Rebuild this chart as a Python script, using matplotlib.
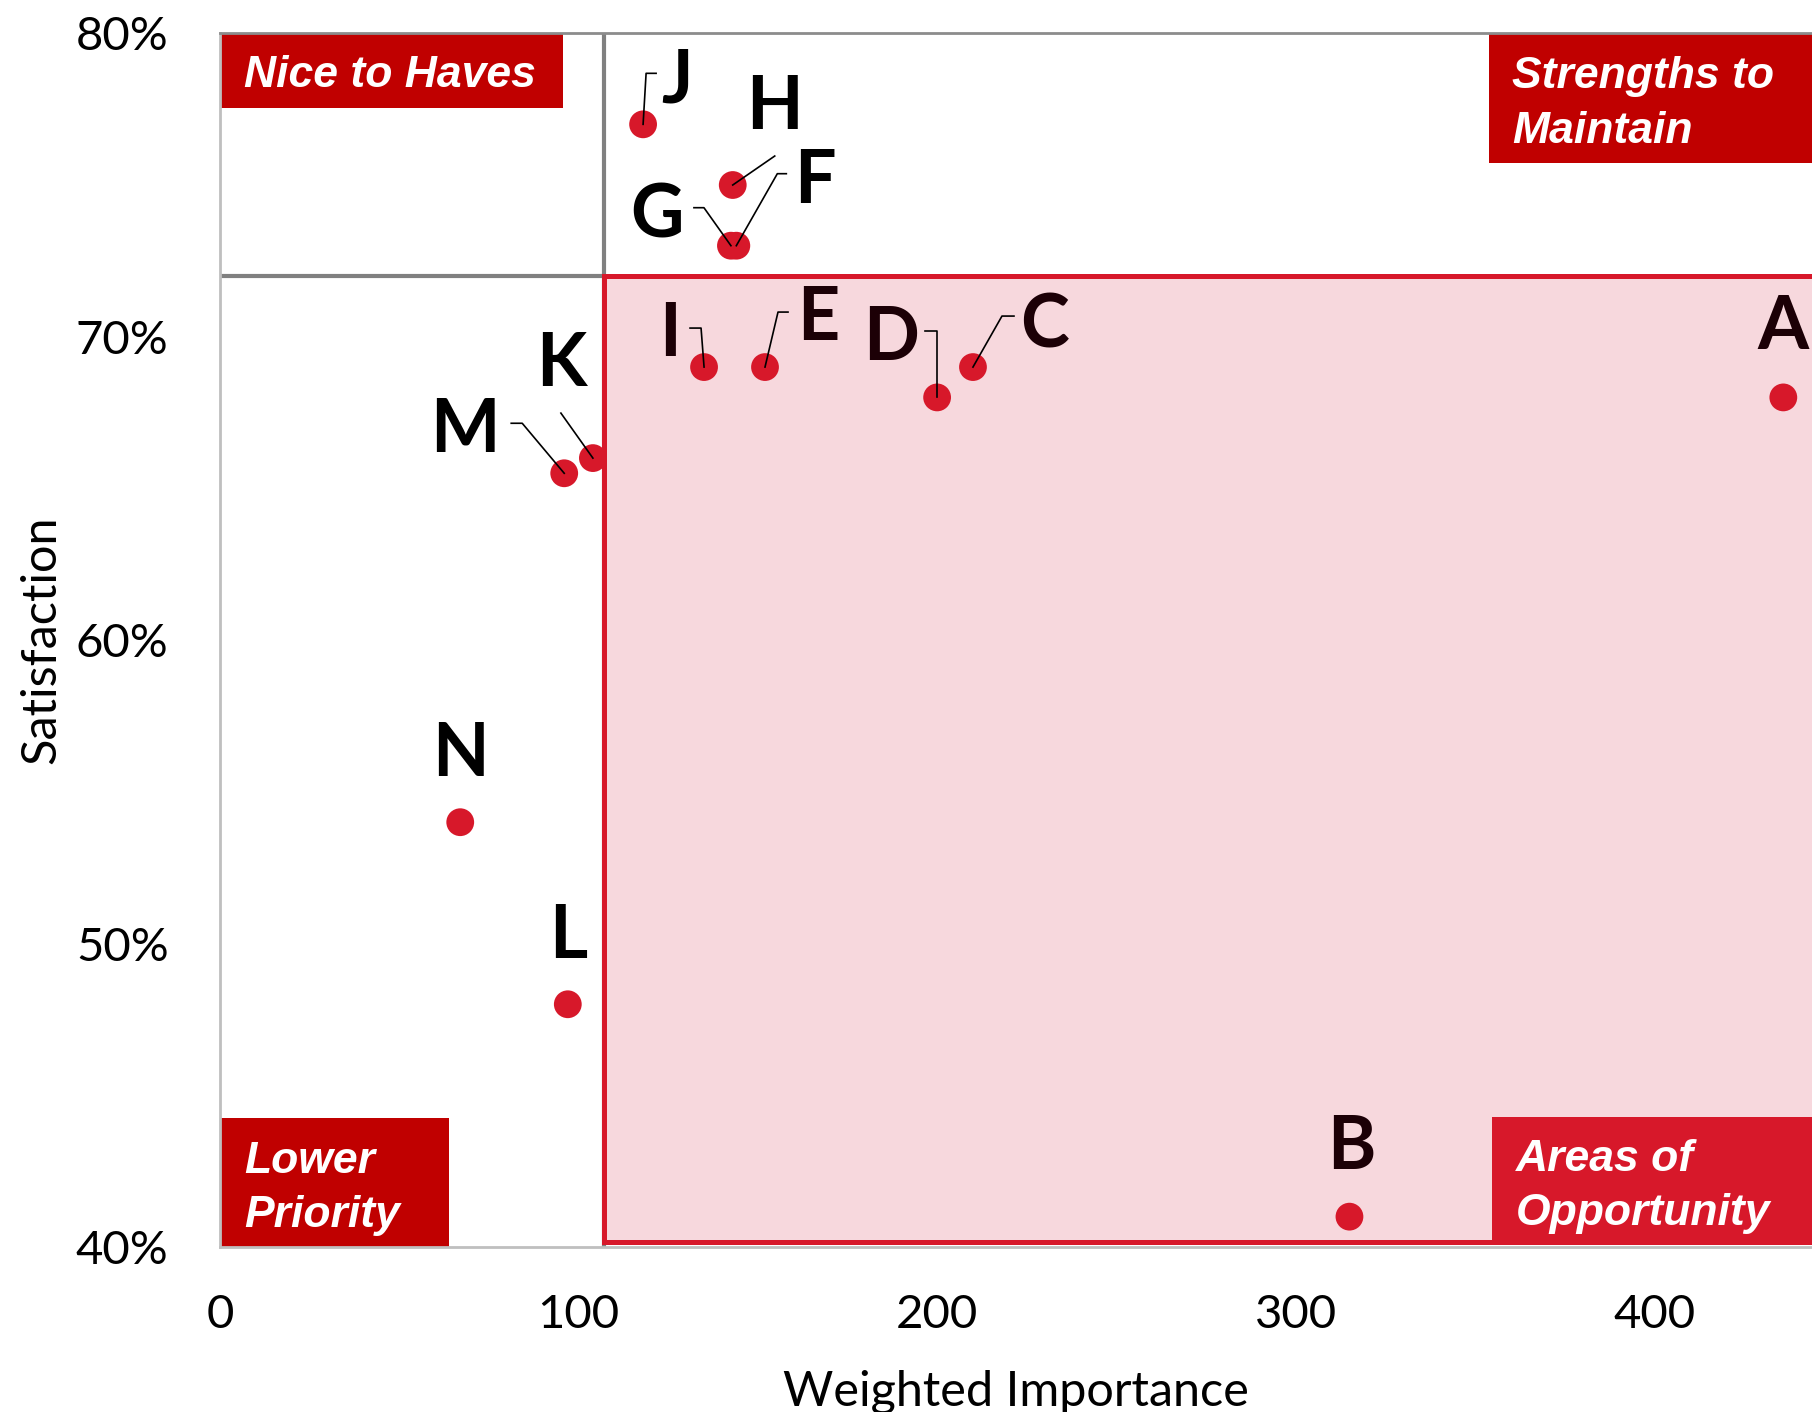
import matplotlib.pyplot as plt
import matplotlib.transforms as mtransforms
from matplotlib.patches import Rectangle
from matplotlib.ticker import PercentFormatter

plt.rcParams['font.family'] = ['Lato', 'DejaVu Sans']

# attributes and their scores
names = ['A', 'B', 'C', 'D', 'E', 'F', 'G', 'H', 'I', 'J', 'K', 'L', 'M', 'N']
importance = [436, 315, 210, 200, 152, 144, 142.5, 143, 135, 118, 104, 97, 96, 67]
satisfaction = [0.68, 0.41, 0.69, 0.68, 0.69, 0.73, 0.73, 0.75, 0.69, 0.77, 0.66, 0.48, 0.655, 0.54]

x_split = 107     # importance cut-off
y_split = 0.72    # satisfaction cut-off

xticks = [0, 100, 200, 300, 400]
yticks = [0.4, 0.5, 0.6, 0.7, 0.8]

# label placement (pixels from the dot: dx right, dy down to baseline)
label_off = {'A': (0, -48), 'B': (2, -48), 'C': (72, -20), 'D': (-46, -37),
             'E': (53, -27), 'F': (79, -43), 'G': (-74, -8), 'H': (42, -56),
             'I': (-34, -11), 'J': (34, -22), 'K': (-32, -72), 'L': (0, -46),
             'M': (-99, -21), 'N': (0, -46)}
# leader lines, same pixel offsets
leaders = {'C': [(0, 0), (29, -51), (41, -51)],
           'D': [(0, 0), (0, -66), (-12, -66)],
           'E': [(0, 0), (13, -55), (23, -55)],
           'F': [(0, 0), (41, -72), (50, -72)],
           'G': [(0, 0), (-27, -38), (-37, -38)],
           'H': [(0, 0), (42, -29)],
           'I': [(0, 0), (-3, -39), (-14, -39)],
           'J': [(0, 0), (3, -51), (13, -51)],
           'K': [(0, 0), (-32, -45)],
           'M': [(0, 0), (-42, -50), (-53, -50)]}

RED = '#D7182A'
DARKRED = '#C00000'

fig = plt.figure(figsize=(18.12, 14.12), dpi=100)
ax = fig.add_axes([220/1812, 165/1412, 1592/1812, 1213.7/1412])
ax.set_xlim(0, 444)
ax.set_ylim(0.4, 0.8)

# quadrant lines / opportunity area
ax.axvline(x_split, color='#808080', lw=3, zorder=1)
ax.plot([0, x_split], [y_split, y_split], color='#808080', lw=3, zorder=1, solid_capstyle='butt')
ax.add_patch(Rectangle((x_split, 0.4015), 1000, y_split - 0.4015, facecolor='#F7D8DD',
                       edgecolor=RED, lw=3.6, zorder=1.5))

# points
ax.scatter(importance, satisfaction, s=400, color=RED, edgecolors='none', zorder=3)

for name, x, y in zip(names, importance, satisfaction):
    inside = x > x_split and y < y_split
    dx, dy = label_off[name]
    ax.annotate(name, xy=(x, y), xytext=(dx, -dy), textcoords='offset pixels',
                ha='center', va='baseline', fontsize=53, fontweight='bold',
                color='#1c0006' if inside else 'black', zorder=4)
    if name in leaders:
        tr = mtransforms.Affine2D().scale(1, -1) + mtransforms.ScaledTranslation(x, y, ax.transData)
        px = [p[0] for p in leaders[name]]
        py = [p[1] for p in leaders[name]]
        ax.plot(px, py, color='black', lw=1.2, transform=tr, zorder=3.5, clip_on=False)

# quadrant captions
boxes = [
    ((0, 0.7754), 95.6, 0.80 - 0.7754, DARKRED, [(6.7, 0.7823, 'Nice to Haves')]),
    ((353.8, 0.7573), 100, 0.80 - 0.7573, DARKRED,
     [(360.4, 0.7820, 'Strengths to'), (360.4, 0.7638, 'Maintain')]),
    ((0, 0.40), 64.0, 0.4425 - 0.40, DARKRED,
     [(6.7, 0.4244, 'Lower'), (6.7, 0.4066, 'Priority')]),
    ((354.8, 0.4015), 100, 0.4428 - 0.4015, RED,
     [(361.4, 0.4250, 'Areas of'), (361.4, 0.4072, 'Opportunity')]),
]
for (x0, y0), w, h, c, lines in boxes:
    ax.add_patch(Rectangle((x0, y0), w, h, facecolor=c, edgecolor='none', zorder=2))
    for tx, ty, s in lines:
        ax.text(tx, ty, s, family='Liberation Sans', fontsize=32, fontweight='bold',
                style='italic', color='white', va='baseline', zorder=2.5)

# axes styling
for side in ['left', 'bottom']:
    ax.spines[side].set_color('#BFBFBF')
    ax.spines[side].set_linewidth(2)
ax.spines['top'].set_color('#8C8C8C')
ax.spines['top'].set_linewidth(2)
ax.spines['right'].set_visible(False)

ax.set_xticks(xticks)
ax.set_yticks(yticks)
ax.yaxis.set_major_formatter(PercentFormatter(1.0, decimals=0))
ax.tick_params(axis='both', length=0, labelsize=34)
ax.tick_params(axis='x', pad=34)
ax.tick_params(axis='y', pad=37)
ax.set_xlabel('Weighted Importance', fontsize=35, labelpad=24)
ax.set_ylabel('Satisfaction', fontsize=35, labelpad=9)

fig.savefig('out.png', dpi=100)
